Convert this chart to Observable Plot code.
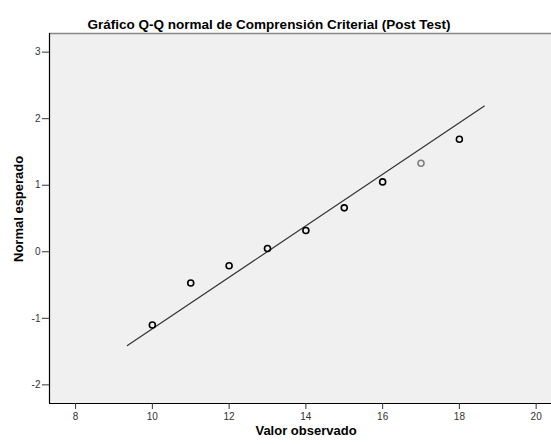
<!DOCTYPE html>
<html>
<head>
<meta charset="utf-8">
<script src="https://cdn.jsdelivr.net/npm/d3@7"></script>
<script src="https://cdn.jsdelivr.net/npm/@observablehq/plot@0.6"></script>
<style>
  html, body { margin: 0; padding: 0; background: #ffffff; }
  #chart { width: 551px; height: 444px; }
</style>
</head>
<body>
<div id="chart"></div>
<script>
// Data
const observed = [10, 11, 12, 13, 14, 15, 16, 17, 18];
const expectedNormal = [-1.10, -0.47, -0.21, 0.05, 0.32, 0.66, 1.05, 1.33, 1.69];
const pointColors = ["#000", "#000", "#000", "#000", "#000", "#000", "#000", "#808080", "#000"];
const lineX = [9.35, 18.65];
const lineY = [-1.41, 2.19];
const xTicks = [8, 10, 12, 14, 16, 18, 20];
const yTicks = [-2, -1, 0, 1, 2, 3];
const xDomain = [7.32, 20.4];
const yDomain = [-2.28, 3.28];
const titleText = "Gráfico Q-Q normal de Comprensión Criterial (Post Test)";
const xLabel = "Valor observado";
const yLabel = "Normal esperado";

const points = observed.map((x, i) => ({x, y: expectedNormal[i], c: pointColors[i]}));
const refLine = lineX.map((x, i) => ({x, y: lineY[i]}));

const font = "'Liberation Sans', Arial, sans-serif";

const chart = Plot.plot({
  width: 551,
  height: 444,
  marginLeft: 49,
  marginRight: 0,
  marginTop: 33,
  marginBottom: 41,
  style: {fontFamily: font, background: "#ffffff", overflow: "visible"},
  x: {domain: xDomain},
  y: {domain: yDomain},
  marks: [
    Plot.frame({fill: "#f0f0f0", stroke: null}),
    Plot.ruleY([yDomain[1]], {stroke: "#888888", strokeWidth: 1.5}),
    Plot.ruleX([xDomain[0]], {stroke: "#000", strokeWidth: 1.2}),
    Plot.ruleY([yDomain[0]], {stroke: "#000", strokeWidth: 1.2}),
    Plot.axisX({ticks: xTicks, tickSize: 6, tickPadding: 3, fontSize: 10, color: "#333", label: null, tickFormat: d => String(d)}),
    Plot.axisY({ticks: yTicks, tickSize: 7, tickPadding: 2, fontSize: 10, color: "#333", label: null, tickFormat: d => String(d)}),
    Plot.line(refLine, {x: "x", y: "y", stroke: "#333", strokeWidth: 1.2}),
    Plot.dot(points, {x: "x", y: "y", r: 3, stroke: "c", strokeWidth: 1.6, fill: "none"}),
    Plot.text([titleText], {frameAnchor: "top", text: d => d, lineAnchor: "bottom", dy: -5, dx: -31.5, fontSize: 13.5, fontWeight: "bold", fill: "#000"}),
    Plot.text([xLabel], {frameAnchor: "bottom", text: d => d, lineAnchor: "bottom", dy: 31, dx: 5.5, fontSize: 13, fontWeight: "bold", fill: "#000"}),
    Plot.text([yLabel], {frameAnchor: "left", text: d => d, rotate: -90, lineAnchor: "middle", dx: -31, dy: 43.5, fontSize: 13, fontWeight: "bold", fill: "#000"})
  ]
});
document.getElementById("chart").appendChild(chart);
</script>
</body>
</html>
